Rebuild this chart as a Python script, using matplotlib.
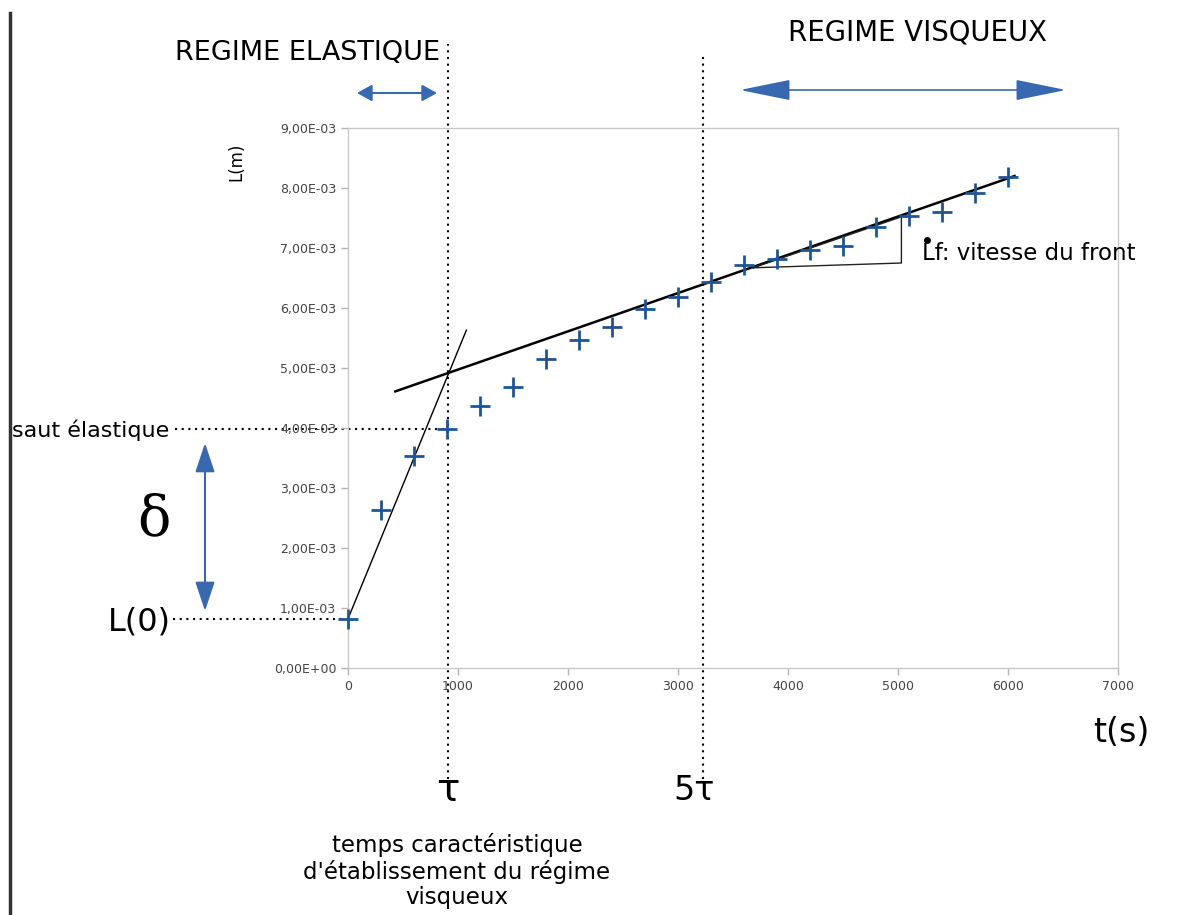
import matplotlib
matplotlib.use("Agg")
import matplotlib.pyplot as plt
from matplotlib.ticker import FuncFormatter
from matplotlib.patches import ArrowStyle, FancyArrowPatch
from matplotlib.lines import Line2D

# mesures : longueur du front L (m) en fonction du temps t (s)
t = [0, 300, 600, 900, 1200, 1500, 1800, 2100, 2400, 2700, 3000,
     3300, 3600, 3900, 4200, 4500, 4800, 5100, 5400, 5700, 6000]
L_mm = [0.82, 2.63, 3.54, 3.98, 4.37, 4.69, 5.15, 5.46, 5.68, 5.99, 6.18,
        6.43, 6.71, 6.82, 6.97, 7.04, 7.35, 7.54, 7.60, 7.92, 8.18]
L = [v * 1e-3 for v in L_mm]

# tangentes tracées a la main (régime élastique / régime visqueux)
t_elast = [0, 1076]
L_elast = [0.82e-3, 5.63e-3]
t_visq = [430, 6060]
L_visq = [4.61e-3, 8.20e-3]

# triangle de pente sur la droite visqueuse
t_tri = [3683, 5031, 5031]
L_tri = [6.67e-3, 6.75e-3, 7.52e-3]

tau = 910
t_5tau = 3230

xticks = [0, 1000, 2000, 3000, 4000, 5000, 6000, 7000]
yticks = [i * 1e-3 for i in range(10)]

W, H = 1181, 915
BLEU = "#1f5496"
BLEU_FLECHE = "#3868b0"
FONT = ["DejaVu Sans"]

fig = plt.figure(figsize=(W / 100, H / 100), dpi=100)
ax = fig.add_axes([348 / W, 1 - 668 / H, (1118 - 348) / W, (668 - 128) / H])


def px(x, y):
    # position en pixels (origine en haut a gauche) -> fraction de figure
    return (x / W, 1 - y / H)


ax.set_xlim(0, 7000)
ax.set_ylim(0, 9e-3)
ax.set_xticks(xticks)
ax.set_yticks(yticks)
ax.xaxis.set_major_formatter(FuncFormatter(lambda v, p: "%d" % v))
ax.yaxis.set_major_formatter(
    FuncFormatter(lambda v, p: ("%.2E" % v).replace(".", ",")))
ax.tick_params(labelsize=9, colors="#b3b3b3", labelcolor="#444444",
               length=5, width=1)
for s in ax.spines.values():
    s.set_color("#c8c8c8")
    s.set_linewidth(1)

# points de mesure
ax.plot(t, L, linestyle="none", marker="+", markersize=14,
        markeredgewidth=2, color=BLEU, zorder=3, clip_on=False)

# tangentes
ax.plot(t_elast, L_elast, color="black", lw=1, zorder=2)
ax.plot(t_visq, L_visq, color="black", lw=1.8, zorder=2)
ax.plot(t_tri + [t_tri[0]], L_tri + [L_tri[0]], color="#222222", lw=1,
        zorder=2)

# lignes pointillées
pointille = dict(color="black", lw=1.5, linestyle=(0, (1, 2.2)),
                 clip_on=False, zorder=1)
ax.plot([tau, tau], [-1.85e-3, 10.4e-3], **pointille)
ax.plot([t_5tau, t_5tau], [-1.85e-3, 10.2e-3], **pointille)
ax.plot([-1570, t[3]], [L[3], L[3]], **pointille)
ax.plot([-1590, t[0]], [L[0], L[0]], **pointille)

# textes
fig.text(*px(308, 53), "REGIME ELASTIQUE", fontsize=19.5, family=FONT,
         ha="center", va="center")
fig.text(*px(918, 33), "REGIME VISQUEUX", fontsize=19.8, family=FONT,
         ha="center", va="center")
fig.text(*px(236, 162), "L(m)", fontsize=12, rotation=90, ha="center",
         va="center", family=FONT)
fig.text(*px(1121, 733), "t(s)", fontsize=24, ha="center", va="center",
         family=FONT)
fig.text(*px(91, 430), "saut élastique", fontsize=16, ha="center",
         va="center", family=FONT)
fig.text(*px(139, 622), "L(0)", fontsize=23, ha="center", va="center",
         family=FONT)
fig.text(*px(154, 520), "δ", fontsize=40, ha="center", va="center",
         family=["DejaVu Serif"])
fig.text(*px(448, 790), "τ", fontsize=28, ha="center", va="center",
         family=FONT)
fig.text(*px(694, 790), "5τ", fontsize=24, ha="center", va="center",
         family=FONT)
fig.text(*px(457, 871),
         "temps caractéristique\nd'établissement du régime\nvisqueux",
         fontsize=16.5, ha="center", va="center", linespacing=1.12,
         family=FONT)
fig.text(*px(922, 254), "Lf: vitesse du front", fontsize=16.5,
         ha="left", va="center", family=FONT)
# point de dérivée au-dessus du L
fig.add_artist(Line2D([927 / W], [1 - 240 / H], transform=fig.transFigure,
                      marker="o", markersize=4, color="black",
                      linestyle="none"))


# flèches bleues
def fleche(x0, y0, x1, y1, hl, hw, lw):
    style = ArrowStyle("<|-|>", head_length=hl, head_width=hw)
    fig.add_artist(FancyArrowPatch(
        px(x0, y0), px(x1, y1), transform=fig.transFigure,
        arrowstyle=style, mutation_scale=10, color=BLEU_FLECHE, lw=lw,
        shrinkA=0, shrinkB=0))


fleche(357, 93, 437, 93, 0.9, 0.5, 1.5)
fleche(740, 90, 1066, 90, 3.2, 0.65, 1.2)
fleche(205, 443, 205, 611, 1.8, 0.6, 1.5)

# bord gauche
fig.add_artist(Line2D([10 / W, 10 / W], [0, 1 - 13 / H],
                      transform=fig.transFigure, color="#333333", lw=2.5))

fig.savefig("out.png", dpi=100)
